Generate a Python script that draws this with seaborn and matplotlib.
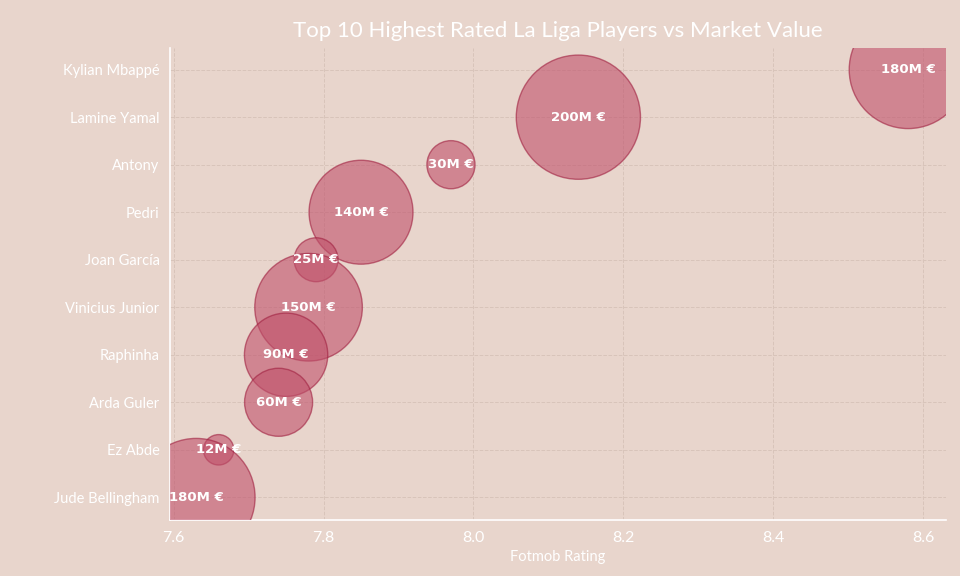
import matplotlib
matplotlib.use('Agg')
import matplotlib.pyplot as plt
import pandas as pd
import seaborn as sns

# ── Data ──────────────────────────────────────────────────────────────────────
players = ['Kylian Mbappé', 'Lamine Yamal', 'Antony', 'Pedri', 'Joan García',
           'Vinicius Junior', 'Raphinha', 'Arda Guler', 'Ez Abde', 'Jude Bellingham']
ratings = [8.58, 8.14, 7.97, 7.85, 7.79, 7.78, 7.75, 7.74, 7.66, 7.63]
values = [180, 200, 30, 140, 25, 150, 90, 60, 12, 180]

df = pd.DataFrame({'player': players, 'rating': ratings, 'value': values})
df['ypos'] = range(len(df))

bg = '#e8d5cc'
sns.set_theme(style='white')
plt.rcParams['font.family'] = ['Lato', 'DejaVu Sans']

fig = plt.figure(figsize=(9.6, 5.76), dpi=100, facecolor=bg)
ax = fig.add_axes([0.177, 0.097, 0.808, 0.82], facecolor=bg)

sns.scatterplot(data=df, x='rating', y='ypos', s=df['value'] * 40,
                color='#c0506a', alpha=0.6, edgecolor='#a02040', linewidth=1,
                ax=ax, legend=False, zorder=3)

for _, r in df.iterrows():
    ax.text(r['rating'], r['ypos'], f"{r['value']}M €", ha='center', va='center',
            color='white', fontsize=9.5, fontweight='bold', family=['DejaVu Sans'],
            zorder=4, clip_on=True)

ax.set_xlim(7.595, 8.63)
ax.set_ylim(9.48, -0.46)
ax.set_yticks(df['ypos'])
ax.set_yticklabels(players)
ax.set_xticks([7.6, 7.8, 8.0, 8.2, 8.4, 8.6])
ax.set_xticklabels(['7.6', '7.8', '8.0', '8.2', '8.4', '8.6'])
ax.tick_params(axis='both', colors='white', labelsize=10.5, length=4)
ax.tick_params(axis='x', labelsize=11.5)
ax.grid(True, color='#d8c4ba', linestyle='--', linewidth=0.7, zorder=0)
for side in ['top', 'right']:
    ax.spines[side].set_visible(False)
for side in ['left', 'bottom']:
    ax.spines[side].set_color('white')
    ax.spines[side].set_linewidth(1.2)
ax.set_xlabel('Fotmob Rating', color='white', fontsize=10.5)
ax.set_ylabel('')
ax.set_title('Top 10 Highest Rated La Liga Players vs Market Value',
             color='white', fontsize=16, pad=8)

plt.savefig('out.png', dpi=100, facecolor=bg)
plt.close()
